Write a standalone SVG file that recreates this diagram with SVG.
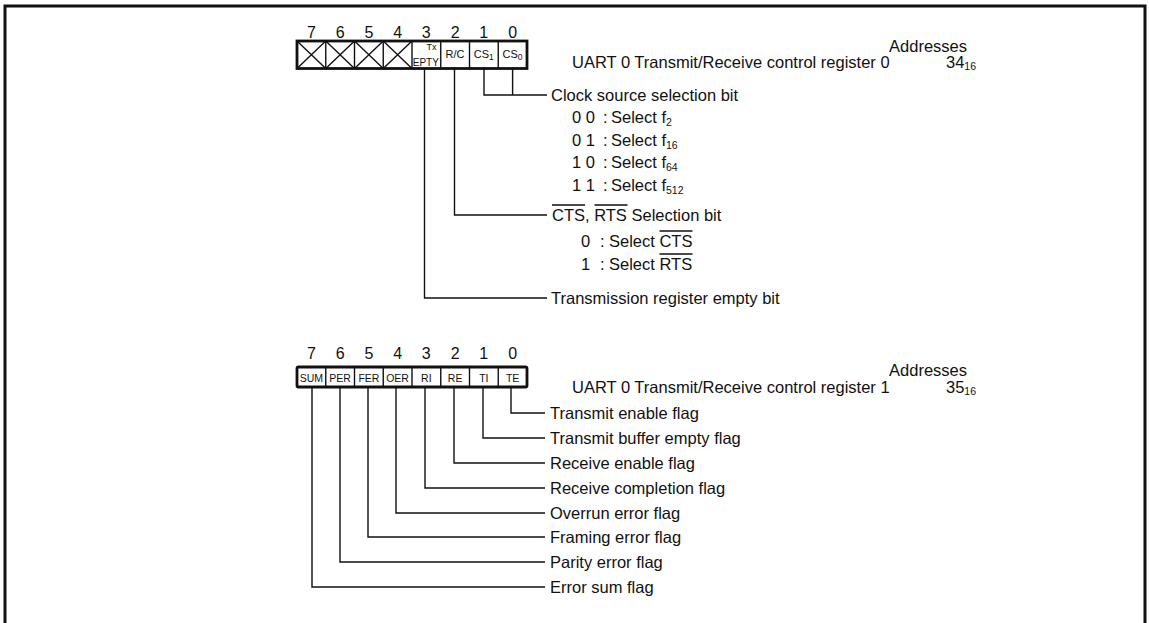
<svg xmlns="http://www.w3.org/2000/svg" width="1149" height="623" viewBox="0 0 1149 623">
<style>
text{font-family:"Liberation Sans",Arial,sans-serif;fill:#111}
.t{font-size:16.5px}
.n{font-size:16px;text-anchor:middle}
.c{font-size:10.5px;text-anchor:middle}
.s{font-size:10.5px}
.box{fill:#fff;stroke:#111;stroke-width:2.8}
.div{stroke:#111;stroke-width:1.4;fill:none}
.ln{stroke:#111;stroke-width:1.4;fill:none}
</style>
<rect width="1149" height="623" fill="#fff"/>
<path d="M5 623V6H1145V623" fill="none" stroke="#111" stroke-width="3"/>

<g id="register0">
<text class="n" x="311.4" y="37.5">7</text><text class="n" x="340.1" y="37.5">6</text><text class="n" x="368.9" y="37.5">5</text><text class="n" x="397.6" y="37.5">4</text><text class="n" x="426.3" y="37.5">3</text><text class="n" x="455.1" y="37.5">2</text><text class="n" x="483.8" y="37.5">1</text><text class="n" x="512.6" y="37.5">0</text>
<rect class="box" x="297" y="41" width="230" height="27.5"/>
<path class="div" d="M325.75 41V68.5M354.5 41V68.5M383.25 41V68.5M412 41V68.5M440.75 41V68.5M469.5 41V68.5M498.25 41V68.5"/>
<path class="div" d="M297 41L325.75 68.5M325.75 41L297 68.5M325.75 41L354.5 68.5M354.5 41L325.75 68.5M354.5 41L383.25 68.5M383.25 41L354.5 68.5M383.25 41L412 68.5M412 41L383.25 68.5"/>
<text class="c" x="431.5" y="49.5" style="font-size:9px">Tx</text>
<text class="c" x="425.8" y="66" style="font-size:10px">EPTY</text>
<text class="c" x="455.1" y="58" style="font-size:11px">R/C</text>
<text class="c" x="483.8" y="58" style="font-size:11px">CS<tspan style="font-size:8.5px" dy="2">1</tspan></text>
<text class="c" x="512.6" y="58" style="font-size:11px">CS<tspan style="font-size:8.5px" dy="2">0</tspan></text>
</g>

<g id="title0">
<text class="t" x="967" y="52" text-anchor="end">Addresses</text>
<text class="t" x="572" y="68">UART 0 Transmit/Receive control register 0</text>
<text class="t" x="946" y="68">34<tspan class="s" dy="2">16</tspan></text>
</g>

<g id="register1">
<text class="n" x="311.4" y="359">7</text><text class="n" x="340.1" y="359">6</text><text class="n" x="368.9" y="359">5</text><text class="n" x="397.6" y="359">4</text><text class="n" x="426.3" y="359">3</text><text class="n" x="455.1" y="359">2</text><text class="n" x="483.8" y="359">1</text><text class="n" x="512.6" y="359">0</text>
<rect class="box" x="297" y="367" width="230" height="20" rx="1.5"/>
<path class="div" d="M325.75 367V387M354.5 367V387M383.25 367V387M412 367V387M440.75 367V387M469.5 367V387M498.25 367V387"/>
<text class="c" x="311.4" y="381.5">SUM</text>
<text class="c" x="340.1" y="381.5">PER</text>
<text class="c" x="368.9" y="381.5">FER</text>
<text class="c" x="397.6" y="381.5">OER</text>
<text class="c" x="426.3" y="381.5">RI</text>
<text class="c" x="455.1" y="381.5">RE</text>
<text class="c" x="483.8" y="381.5">TI</text>
<text class="c" x="512.6" y="381.5">TE</text>
</g>

<g id="title1">
<text class="t" x="967" y="376" text-anchor="end">Addresses</text>
<text class="t" x="572" y="393">UART 0 Transmit/Receive control register 1</text>
<text class="t" x="946" y="393">35<tspan class="s" dy="2">16</tspan></text>
</g>

<g id="connectors">
<path class="ln" d="M484 68.5V95H547M512.6 68.5V95"/>
<path class="ln" d="M454.5 68.5V215H547"/>
<path class="ln" d="M424.5 68.5V298H547"/>
<path class="ln" d="M511 387V413H545"/>
<path class="ln" d="M483 387V438H545"/>
<path class="ln" d="M454 387V463H545"/>
<path class="ln" d="M425 387V488H545"/>
<path class="ln" d="M396 387V513H545"/>
<path class="ln" d="M368 387V537H545"/>
<path class="ln" d="M340 387V562H545"/>
<path class="ln" d="M312 387V587H545"/>
</g>

<g id="clock-source">
<text class="t" x="551" y="100.5">Clock source selection bit</text>
<text class="t" x="572" y="122.5">0 0</text><text class="t" x="603" y="122.5">:</text><text class="t" x="611" y="122.5">Select f<tspan class="s" dy="3">2</tspan></text>
<text class="t" x="572" y="145.5">0 1</text><text class="t" x="603" y="145.5">:</text><text class="t" x="611" y="145.5">Select f<tspan class="s" dy="3">16</tspan></text>
<text class="t" x="572" y="167.5">1 0</text><text class="t" x="603" y="167.5">:</text><text class="t" x="611" y="167.5">Select f<tspan class="s" dy="3">64</tspan></text>
<text class="t" x="572" y="190.5">1 1</text><text class="t" x="603" y="190.5">:</text><text class="t" x="611" y="190.5">Select f<tspan class="s" dy="3">512</tspan></text>
</g>

<g id="cts-rts">
<text class="t" x="552" y="220.5">CTS, RTS Selection bit</text>
<path class="ln" d="M552 205H585M594.5 205H627.5"/>
<text class="t" x="581" y="246.5">0</text><text class="t" x="600" y="246.5">:</text><text class="t" x="609" y="246.5">Select CTS</text>
<path class="ln" d="M659.5 231H692.5"/>
<text class="t" x="581" y="269.5">1</text><text class="t" x="600" y="269.5">:</text><text class="t" x="609" y="269.5">Select RTS</text>
<path class="ln" d="M659.5 254H692.5"/>
</g>

<g id="tx-empty">
<text class="t" x="551" y="303.5">Transmission register empty bit</text>
</g>

<g id="flags1">
<text class="t" x="550" y="418.5">Transmit enable flag</text>
<text class="t" x="550" y="443.5">Transmit buffer empty flag</text>
<text class="t" x="550" y="468.5">Receive enable flag</text>
<text class="t" x="550" y="493.5">Receive completion flag</text>
<text class="t" x="550" y="518.5">Overrun error flag</text>
<text class="t" x="550" y="542.5">Framing error flag</text>
<text class="t" x="550" y="567.5">Parity error flag</text>
<text class="t" x="550" y="592.5">Error sum flag</text>
</g>
</svg>
